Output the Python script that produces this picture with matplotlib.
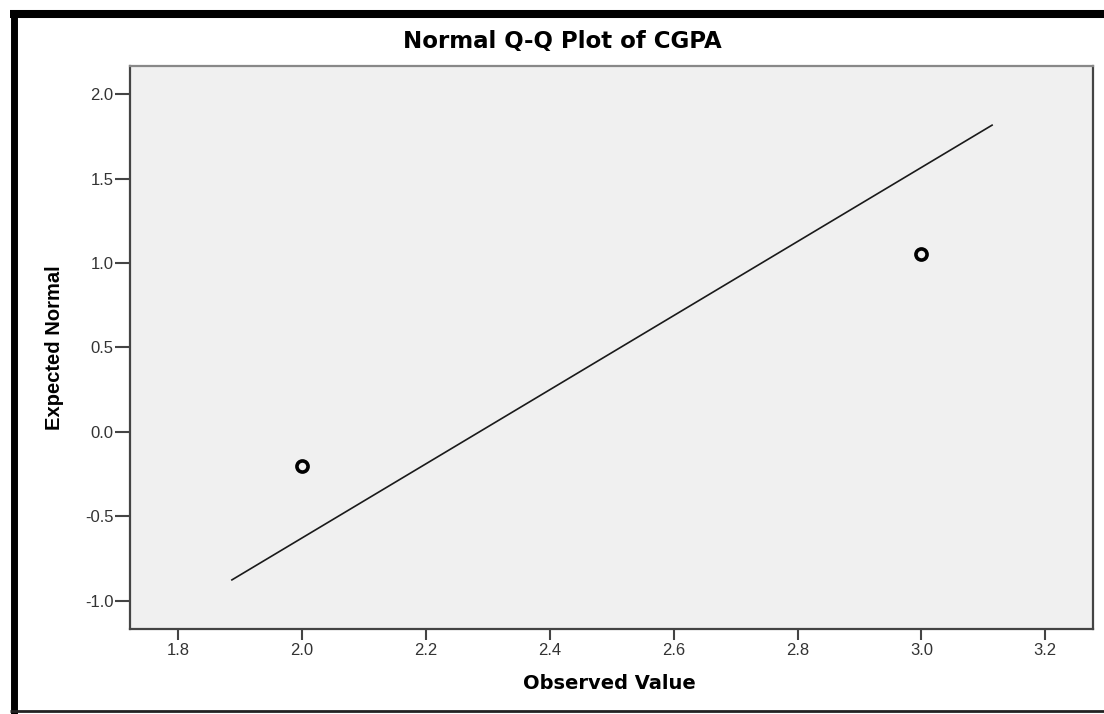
import matplotlib.pyplot as plt
import matplotlib as mpl
from matplotlib.lines import Line2D

# data
observed = [2.0, 3.0]
expected = [-0.20, 1.05]
line_x = [1.887, 3.114]
line_y = [-0.877, 1.816]
x_ticks = [1.8, 2.0, 2.2, 2.4, 2.6, 2.8, 3.0, 3.2]
y_ticks = [-1.0, -0.5, 0.0, 0.5, 1.0, 1.5, 2.0]

mpl.rcParams["font.family"] = ["Liberation Sans", "DejaVu Sans"]

fig = plt.figure(figsize=(11.04, 7.14), dpi=100)
ax = fig.add_axes([0.1178, 0.119, 0.8723, 0.7885])
ax.set_facecolor('#f0f0f0')

ax.plot(line_x, line_y, color='#1a1a1a', lw=1.2)
ax.plot(observed, expected, linestyle='none', marker='o', ms=8,
        mfc='none', mec='black', mew=2.6)

ax.set_xlim(1.7226, 3.277)
ax.set_ylim(-1.168, 2.166)
ax.set_xticks(x_ticks)
ax.set_xticklabels([f'{v:.1f}' for v in x_ticks])
ax.set_yticks(y_ticks)
ax.set_yticklabels([f'{v:.1f}' for v in y_ticks])
ax.tick_params(axis='both', direction='out', width=1.5, color='#444444',
               labelsize=12, labelcolor='#333333')
ax.tick_params(axis='x', length=8, pad=2)
ax.tick_params(axis='y', length=11, pad=1)

for side in ['left', 'bottom', 'right']:
    ax.spines[side].set_color('#444444')
    ax.spines[side].set_linewidth(1.6)
ax.spines['top'].set_color('#888888')
ax.spines['top'].set_linewidth(1.6)

fig.text(0.509, 0.942, 'Normal Q-Q Plot of CGPA', ha='center', va='center',
         fontsize=16.5, fontweight='bold', family=['DejaVu Sans'])
fig.text(0.5516, 0.0434, 'Observed Value', ha='center', va='center',
         fontsize=14, fontweight='bold', family=['DejaVu Sans'])
fig.text(0.0498, 0.5126, 'Expected Normal', ha='center', va='center',
         rotation=90, fontsize=14.5, fontweight='bold')

# black frame around the picture
fig.add_artist(Line2D([10 / 1104, 1], [0.9804, 0.9804], color='black', lw=5.8,
                      transform=fig.transFigure, solid_capstyle='butt'))
fig.add_artist(Line2D([0.01223, 0.01223], [0.9860, 0], color='black', lw=5.0,
                      transform=fig.transFigure, solid_capstyle='butt'))
fig.add_artist(Line2D([10 / 1104, 1], [0.0042, 0.0042], color='#222222', lw=2.0,
                      transform=fig.transFigure, solid_capstyle='butt'))

plt.savefig('out.png', dpi=100)
